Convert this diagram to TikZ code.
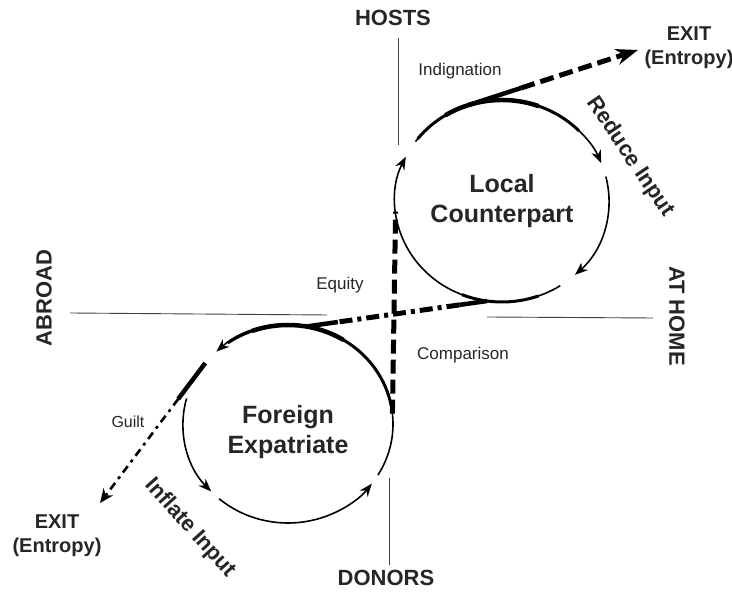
\documentclass[tikz,border=0pt]{standalone}
\usepackage{fontspec}
\setmainfont{Liberation Sans}
\usetikzlibrary{arrows.meta, calc}

\begin{document}
\begin{tikzpicture}[
    x=1pt, y=1pt,
    axis/.style={draw=black!75, line width=0.9pt},
    cyc/.style={draw, line width=1.6pt, -{Stealth[length=13pt,width=10pt]}},
    heavy/.style={draw, line width=3pt},
    heavier/.style={draw, line width=4.5pt},
    flowdash/.style={draw, line width=5pt, dash pattern=on 14pt off 6pt},
    flowdot/.style={draw, line width=5pt, dash pattern=on 13pt off 5pt on 4pt off 5pt},
    exitdot/.style={draw, line width=2.6pt, dash pattern=on 8pt off 5pt on 3pt off 5pt},
    side/.style={font=\bfseries\fontsize{22}{24}\selectfont, text=black!85},
    actor/.style={font=\bfseries\fontsize{25}{30}\selectfont, text=black!85, align=center},
    feel/.style={font=\fontsize{17}{20}\selectfont, text=black!85},
    exitlbl/.style={font=\bfseries\fontsize{20}{24}\selectfont, text=black!85, align=center}
]
\useasboundingbox (0,0) rectangle (732,599);

% centres of the two loops
\coordinate (lc) at (502,398);
\coordinate (fc) at (288,175);

% quadrant axes and their names
\node [side] (hosts) at (393,581) {HOSTS};
\node [side] (donors) at (386,21) {DONORS};
\node [side, rotate=90] (abroad) at (44,301) {ABROAD};
\node [side, rotate=-90] (athome) at (677,283) {AT HOME};
\draw [axis] (398,561) -- (398,454);
\draw [axis] (389,121) -- (389,34);
\draw [axis] (70,286) -- (327,284);
\draw [axis] (487,282) -- (653,281);

% loop labels
\node [actor] (local) at (lc) {Local\\Counterpart};
\node [actor] (foreign) at (288,167) {Foreign\\Expatriate};
\node [side, rotate=-56] (reduce) at (630,442) {Reduce Input};
\node [side, rotate=-48] (inflate) at (190,71) {Inflate Input};

% feelings
\node [feel] (indig) at (460,528) {Indignation};
\node [feel] (equity) at (340,314) {Equity};
\node [feel] (compar) at (463,244) {Comparison};
\node [feel, font=\fontsize{16}{19}\selectfont] (guilt) at (128,177) {Guilt};

% exits
\node [exitlbl] (exittop) at (689,551) {EXIT\\(Entropy)};
\node [exitlbl] (exitbot) at (57,63) {EXIT\\(Entropy)};
\coordinate (tipA) at (638,549);
\coordinate (tipB) at (100,96);

% local counterpart loop (clockwise)
\draw [cyc] ($(lc)+(144:107pt and 101pt)$) arc[start angle=144, end angle=22, x radius=107pt, y radius=101pt];
\draw [cyc] ($(lc)+(14:107pt and 101pt)$) arc[start angle=14, end angle=-47, x radius=107pt, y radius=101pt];
\draw [cyc] ($(lc)+(-57:107pt and 101pt)$) arc[start angle=-57, end angle=-206, x radius=107pt, y radius=101pt];
\draw [heavy] ($(lc)+(142:107pt and 101pt)$) arc[start angle=142, end angle=44, x radius=107pt, y radius=101pt];
\draw [heavier] ($(lc)+(122:107pt and 101pt)$) arc[start angle=122, end angle=70, x radius=107pt, y radius=101pt];
\draw [heavy] ($(lc)+(-70:107pt and 101pt)$) arc[start angle=-70, end angle=-112, x radius=107pt, y radius=101pt];

% foreign expatriate loop (anticlockwise)
\draw [cyc] ($(fc)+(-31:105pt and 99pt)$) arc[start angle=-31, end angle=133, x radius=105pt, y radius=99pt];
\draw [cyc] ($(fc)+(165:105pt and 99pt)$) arc[start angle=165, end angle=223, x radius=105pt, y radius=99pt];
\draw [cyc] ($(fc)+(229:105pt and 99pt)$) arc[start angle=229, end angle=323, x radius=105pt, y radius=99pt];
\draw [heavy] ($(fc)+(10:105pt and 99pt)$) arc[start angle=10, end angle=125, x radius=105pt, y radius=99pt];
\draw [heavier] ($(fc)+(58:105pt and 99pt)$) arc[start angle=58, end angle=110, x radius=105pt, y radius=99pt];

% points where the flows leave or join the loops
\coordinate (lt) at ($(lc)+(108:107pt and 101pt)$);
\coordinate (lb) at ($(lc)+(-98:107pt and 101pt)$);
\coordinate (ll) at ($(lc)+(186:107pt and 101pt)$);
\coordinate (ft) at ($(fc)+(80:105pt and 99pt)$);
\coordinate (fr) at ($(fc)+(6:105pt and 99pt)$);
\coordinate (fl) at ($(fc)+(142:105pt and 99pt)$);

% indignation exit
\draw [heavier] (lt) -- ($(lt)!55pt!(tipA)$);
\draw [flowdash, -{Stealth[length=22pt,width=16pt]}] ($(lt)!55pt!(tipA)$) -- (tipA);

% equity / comparison link
\draw [heavier] (lb) -- ($(lb)!28pt!(ft)$);
\draw [flowdot] ($(lb)!28pt!(ft)$) -- ($(ft)!32pt!(lb)$);
\draw [heavier] ($(ft)!32pt!(lb)$) -- (ft);

% donors to hosts link
\draw [flowdash] (fr) -- (ll);

% guilt exit
\draw [heavier] (fl) -- ($(fl)!45pt!(tipB)$);
\draw [exitdot, -{Stealth[length=14pt,width=12pt]}] ($(fl)!45pt!(tipB)$) -- (tipB);
\end{tikzpicture}
\end{document}
